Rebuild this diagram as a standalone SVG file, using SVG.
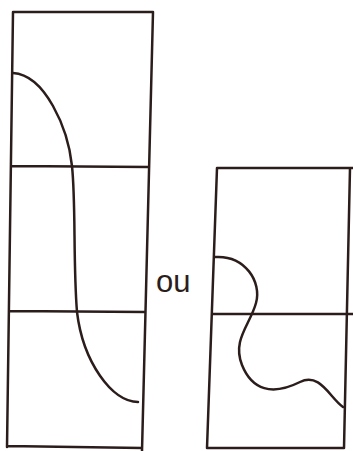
<svg xmlns="http://www.w3.org/2000/svg" width="353" height="451" viewBox="0 0 353 451">
<style>
.ln{fill:none;stroke:#2b1d1b;stroke-width:2.5;stroke-linecap:round;stroke-linejoin:round}
.t{font-family:"Liberation Sans",Arial,sans-serif;font-size:31px;fill:#2b1d1b}
</style>
<rect width="353" height="451" fill="#ffffff"/>
<g id="left-box">
<path class="ln" d="M13,12 L153,12 M13,12 L7,447 M153,12 L142,451 M12,166 L149,167 M9,311 L145,312 M7,446 L142,448"/>
<path class="ln" d="M13,73 C45,75 68,128 72,166 C76,205 73,262 77,312 C83,362 112,402 138,402"/>
</g>
<g id="or-label">
<text class="t" x="156" y="292">ou</text>
</g>
<g id="right-box">
<path class="ln" d="M217,168 L353,168 M217,168 L207,448 M350,168 L344,448 M213,314 L353,314 M207,448 L344,448"/>
<path class="ln" d="M215,257 C245,255 262,282 256,303 C250,325 232,340 242,365 C252,390 272,396 300,382 C320,372 330,398 343,407"/>
</g>
</svg>
